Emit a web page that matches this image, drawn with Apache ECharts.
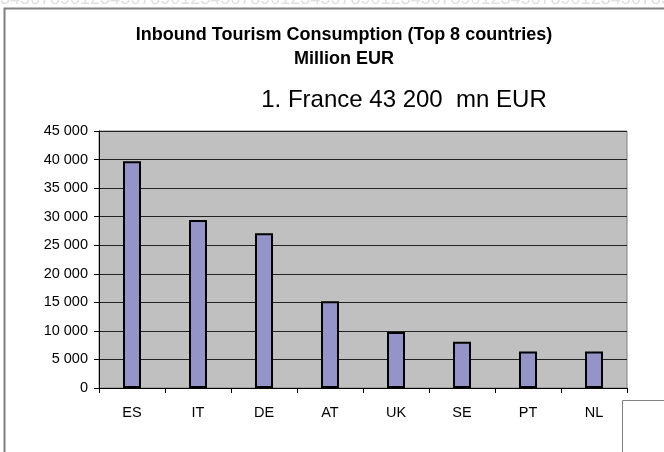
<!DOCTYPE html>
<html>
<head>
<meta charset="utf-8">
<script src="https://cdn.jsdelivr.net/npm/echarts@6/dist/echarts.min.js"></script>
<style>
  html, body { margin: 0; padding: 0; background: #fff; }
  #main { width: 664px; height: 452px; }
</style>
</head>
<body>
<div id="main"></div>
<script>
// data
var countries = ["ES", "IT", "DE", "AT", "UK", "SE", "PT", "NL"];
var consumption = [39700, 29400, 27100, 15200, 9800, 8100, 6400, 6400];
var titleText = "Inbound Tourism Consumption (Top 8 countries)\nMillion EUR";
var noteText = "1. France 43 200  mn EUR";

var myChart = echarts.init(document.getElementById("main"));

var option = {
  animation: false,
  backgroundColor: "#fff",
  title: {
    text: titleText,
    left: 339,
    top: 18,
    textAlign: "center",
    textStyle: {
      fontFamily: "Liberation Sans",
      fontSize: 18,
      fontWeight: "bold",
      color: "#000",
      lineHeight: 24
    }
  },
  grid: {
    left: 99,
    right: 37,
    top: 131,
    bottom: 64,
    show: true,
    backgroundColor: "#c0c0c0",
    borderColor: "#808080",
    borderWidth: 1
  },
  xAxis: {
    type: "category",
    data: countries,
    axisLine: { lineStyle: { color: "#000", width: 1 } },
    axisTick: { show: true, length: 5, lineStyle: { color: "#000" } },
    axisLabel: {
      color: "#000",
      fontFamily: "Liberation Sans",
      fontSize: 14.5,
      margin: 17
    }
  },
  yAxis: {
    type: "value",
    min: 0,
    max: 45000,
    interval: 5000,
    axisLine: { show: true, lineStyle: { color: "#000" } },
    axisTick: { show: true, length: 5, lineStyle: { color: "#000" } },
    splitLine: { lineStyle: { color: "#222", width: 1 } },
    axisLabel: {
      color: "#000",
      fontFamily: "Liberation Sans",
      fontSize: 14.5,
      margin: 11,
      formatter: function (v) {
        return String(v).replace(/\B(?=(\d{3})+(?!\d))/g, " ");
      }
    }
  },
  series: [
    {
      type: "bar",
      data: consumption,
      barWidth: 18,
      itemStyle: {
        color: "#9494c8",
        borderColor: "#000",
        borderWidth: 2
      }
    }
  ],
  graphic: [
    // faint ruler digits at the very top
    {
      type: "text",
      left: 0,
      top: -10,
      silent: true,
      style: {
        text: "34567890123456789012345678901234567890123456789012345678901234567890123",
        font: "18px Liberation Sans",
        fill: "#e0e0e0"
      }
    },
    // page frame
    {
      type: "polyline",
      silent: true,
      shape: { points: [[4.5, 452], [4.5, 8.5], [664, 8.5]] },
      style: { stroke: "#808080", lineWidth: 2, fill: null }
    },
    // small box at bottom right
    {
      type: "polyline",
      silent: true,
      shape: { points: [[622.5, 452], [622.5, 400.5], [664, 400.5]] },
      style: { stroke: "#808080", lineWidth: 1, fill: null }
    },
    {
      type: "text",
      x: 404,
      y: 100,
      silent: true,
      style: {
        text: noteText,
        font: "24px Liberation Sans",
        fill: "#000",
        align: "center",
        verticalAlign: "middle"
      }
    }
  ]
};

myChart.setOption(option);
</script>
</body>
</html>
